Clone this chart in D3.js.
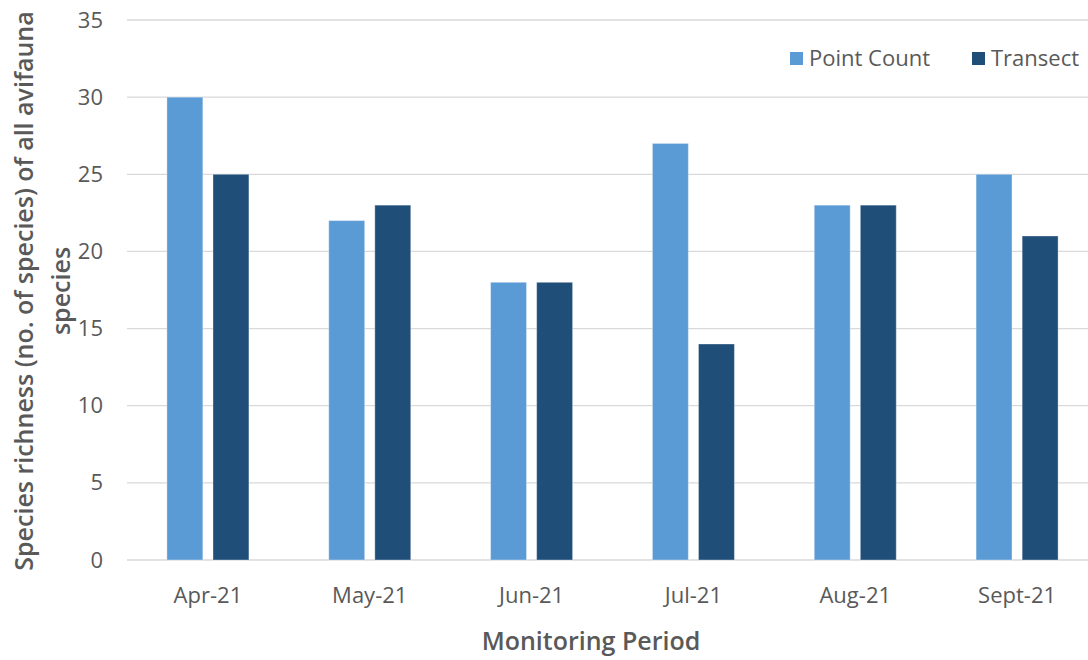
<!DOCTYPE html>
<html>
<head>
<meta charset="utf-8">
<script src="https://cdn.jsdelivr.net/npm/d3@7/dist/d3.min.js"></script>
<style>
  html, body { margin: 0; padding: 0; background: #fff; }
  svg { display: block; font-family: "Open Sans", "Noto Sans", sans-serif; }
</style>
</head>
<body>
<svg id="chart" width="1088" height="660"></svg>
<script>
const periods = ["Apr-21", "May-21", "Jun-21", "Jul-21", "Aug-21", "Sept-21"];
const pointCount = [30, 22, 18, 27, 23, 25];
const transect = [25, 23, 18, 14, 23, 21];
const seriesNames = ["Point Count", "Transect"];
const seriesColors = ["#5b9bd5", "#1f4e79"];
const yTicks = [0, 5, 10, 15, 20, 25, 30, 35];

const svg = d3.select("#chart");
const margin = { left: 127, right: -10, top: 20, bottom: 100 };
const W = 1088, H = 660;
const font = "'Open Sans', 'Noto Sans', sans-serif";

const x = d3.scaleBand().domain(periods)
  .range([margin.left, W - margin.right]).paddingInner(0).paddingOuter(0);
const y = d3.scaleLinear().domain([0, 35]).range([H - margin.bottom, margin.top]);

const inner = d3.scaleBand().domain(seriesNames)
  .range([x.bandwidth() / 2 - 41, x.bandwidth() / 2 + 41]).paddingInner(0.22).paddingOuter(0);

// gridlines
svg.append("g").selectAll("line").data(yTicks).join("line")
  .attr("x1", margin.left).attr("x2", W)
  .attr("y1", d => y(d)).attr("y2", d => y(d))
  .attr("stroke", "#d9d9d9").attr("stroke-width", 1.3);

// y axis labels
const yAxis = d3.axisLeft(y).tickValues(yTicks).tickSize(0).tickPadding(0);
const gy = svg.append("g").attr("transform", `translate(103,0)`).call(yAxis);
gy.select(".domain").remove();
gy.selectAll("text").attr("font-size", 22).attr("fill", "#595959").attr("font-family", font);

// x axis labels
const xAxis = d3.axisBottom(x).tickSize(0).tickPadding(0);
const gx = svg.append("g").attr("transform", `translate(0,${y(0) + 27})`).call(xAxis);
gx.select(".domain").remove();
gx.selectAll("text").attr("font-size", 22).attr("fill", "#595959").attr("font-family", font);

// bars
const rows = periods.map((p, i) => ({ p, vals: [pointCount[i], transect[i]] }));
const groups = svg.append("g").selectAll("g").data(rows).join("g")
  .attr("transform", d => `translate(${x(d.p)},0)`);
groups.selectAll("rect").data(d => d.vals.map((v, j) => ({ v, s: seriesNames[j], c: seriesColors[j] })))
  .join("rect")
  .attr("x", d => inner(d.s))
  .attr("width", inner.bandwidth())
  .attr("y", d => y(d.v))
  .attr("height", d => y(0) - y(d.v))
  .attr("fill", d => d.c)
  .attr("stroke", "#ffffff").attr("stroke-opacity", 0.35).attr("stroke-width", 1);

// legend
const legendX = [790, 972];
const lg = svg.append("g").selectAll("g").data(seriesNames).join("g")
  .attr("transform", (d, i) => `translate(${legendX[i]},52)`);
lg.append("rect").attr("width", 13).attr("height", 13).attr("fill", (d, i) => seriesColors[i]);
lg.append("text").attr("x", 19).attr("y", 6).attr("dy", "0.35em")
  .attr("font-size", 22).attr("fill", "#595959").text(d => d);

// axis titles
svg.append("text")
  .attr("x", 591).attr("y", 650)
  .attr("text-anchor", "middle").attr("font-size", 25).attr("font-weight", 600)
  .attr("fill", "#595959").text("Monitoring Period");

const yt = svg.append("text")
  .attr("transform", `translate(0,291) rotate(-90)`)
  .attr("text-anchor", "middle").attr("font-size", 25).attr("font-weight", 600)
  .attr("fill", "#595959");
yt.append("tspan").attr("x", 0).attr("y", 33).text("Species richness (no. of species) of all avifauna");
yt.append("tspan").attr("x", 0).attr("y", 70).text("species");
</script>
</body>
</html>
